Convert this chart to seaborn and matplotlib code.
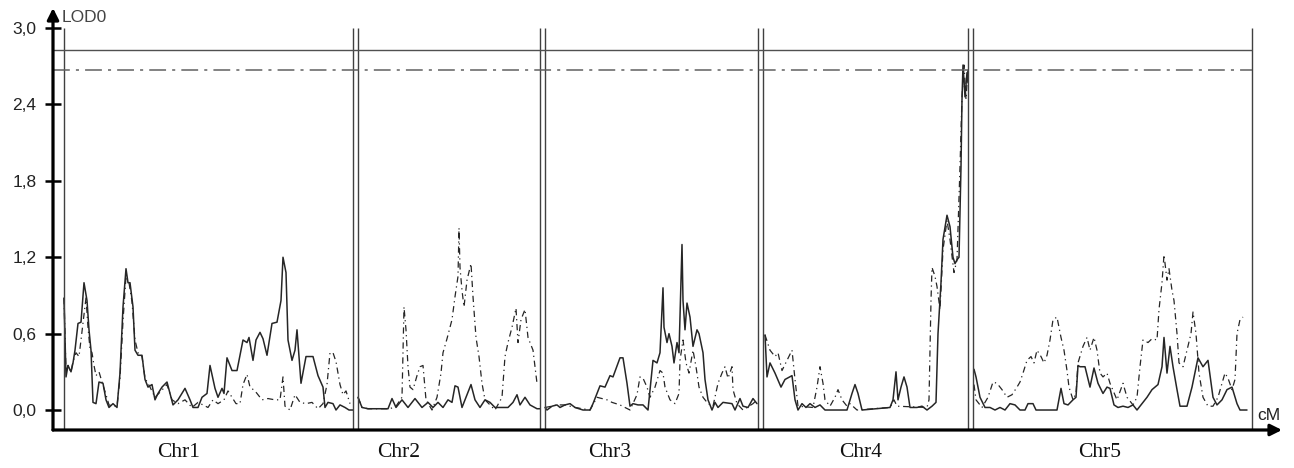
import numpy as np
import pandas as pd
import seaborn as sns
import matplotlib.pyplot as plt

# chromosome names, lengths (cM) and label positions
chr_names = ['Chr1', 'Chr2', 'Chr3', 'Chr4', 'Chr5']
chr_len = [289, 182, 213, 205, 279]
gap = 5
label_pos = [115, 335, 546, 797, 1036]

thr_solid = 2.83
thr_dash = 2.67

yticks = [0.0, 0.6, 1.2, 1.8, 2.4, 3.0]

# ---- Chr1
chr1_solid_cm = [0, 2, 4, 7, 9, 11, 14, 17, 20, 23, 25, 27, 29, 32, 35, 39, 42, 45, 49, 53, 56, 59, 62, 64, 66,
                 69, 71, 74, 78, 81, 84, 88, 91, 94, 98, 103, 106, 109, 114, 121, 126, 129, 134, 138, 143, 146,
                 151, 154, 158, 160, 163, 168, 173, 179, 183, 185, 189, 192, 196, 199, 203, 208, 213, 217, 219,
                 222, 224, 228, 231, 233, 237, 242, 249, 254, 259, 261, 264, 269, 272, 276, 281, 285, 289]
chr1_solid_lod = [0.88, 0.26, 0.35, 0.30, 0.37, 0.47, 0.68, 0.69, 1.00, 0.86, 0.63, 0.47, 0.06, 0.05, 0.22, 0.21,
                  0.08, 0.02, 0.05, 0.02, 0.29, 0.81, 1.11, 1.00, 1.00, 0.81, 0.47, 0.43, 0.43, 0.24, 0.18, 0.20,
                  0.08, 0.13, 0.18, 0.22, 0.13, 0.04, 0.08, 0.17, 0.08, 0.02, 0.02, 0.10, 0.13, 0.35, 0.17, 0.10,
                  0.17, 0.13, 0.41, 0.31, 0.31, 0.55, 0.53, 0.57, 0.39, 0.55, 0.61, 0.56, 0.43, 0.68, 0.69, 0.86,
                  1.20, 1.08, 0.55, 0.39, 0.47, 0.63, 0.21, 0.42, 0.42, 0.27, 0.18, 0.02, 0.06, 0.05, 0.00, 0.04,
                  0.02, 0.00, 0.00]
chr1_dash_cm = [0, 2, 4, 7, 9, 12, 15, 17, 20, 22, 24, 26, 28, 30, 32, 35, 38, 42, 45, 49, 53, 56, 59, 62, 65, 68,
                71, 74, 78, 81, 86, 91, 96, 103, 108, 114, 121, 128, 134, 139, 144, 149, 154, 160, 164, 168, 172,
                176, 179, 183, 186, 191, 194, 198, 204, 211, 216, 219, 221, 226, 231, 236, 242, 248, 254, 259,
                263, 266, 269, 272, 276, 279, 282, 286]
chr1_dash_lod = [0.88, 0.30, 0.35, 0.30, 0.38, 0.45, 0.42, 0.55, 0.75, 0.88, 0.65, 0.48, 0.45, 0.35, 0.27, 0.30,
                 0.22, 0.12, 0.04, 0.03, 0.03, 0.25, 0.70, 1.05, 1.00, 0.85, 0.55, 0.45, 0.42, 0.25, 0.18, 0.10,
                 0.14, 0.20, 0.08, 0.05, 0.08, 0.02, 0.06, 0.04, 0.02, 0.08, 0.05, 0.08, 0.15, 0.10, 0.05, 0.05,
                 0.20, 0.28, 0.18, 0.15, 0.12, 0.08, 0.09, 0.08, 0.08, 0.26, 0.03, 0.00, 0.12, 0.06, 0.05, 0.06,
                 0.01, 0.05, 0.20, 0.45, 0.45, 0.38, 0.20, 0.12, 0.15, 0.05]

# ---- Chr2
chr2_solid_cm = [0, 4, 10, 30, 34, 38, 44, 50, 57, 64, 70, 75, 80, 85, 90, 94, 97, 100, 104, 109, 113, 117, 122,
                 127, 132, 137, 144, 150, 155, 159, 162, 167, 172, 179, 182]
chr2_solid_lod = [0.10, 0.02, 0.01, 0.01, 0.09, 0.02, 0.08, 0.02, 0.09, 0.02, 0.06, 0.02, 0.06, 0.02, 0.08, 0.06,
                  0.19, 0.18, 0.02, 0.12, 0.20, 0.08, 0.02, 0.08, 0.06, 0.02, 0.02, 0.02, 0.06, 0.12, 0.04, 0.10,
                  0.04, 0.01, 0.01]
chr2_dash_cm = [0, 4, 10, 32, 38, 44, 46, 48, 50, 52, 55, 59, 62, 65, 68, 74, 79, 83, 85, 89, 94, 97, 100, 101,
                102, 104, 106, 109, 113, 115, 118, 121, 124, 127, 137, 144, 147, 150, 154, 158, 160, 163, 167,
                170, 175, 179]
chr2_dash_lod = [0.10, 0.02, 0.01, 0.01, 0.03, 0.10, 0.81, 0.63, 0.34, 0.18, 0.16, 0.27, 0.34, 0.35, 0.08, 0.00,
                 0.10, 0.29, 0.45, 0.56, 0.71, 0.89, 1.05, 1.43, 1.12, 0.94, 0.81, 1.02, 1.15, 0.89, 0.57, 0.42,
                 0.21, 0.08, 0.00, 0.10, 0.42, 0.53, 0.65, 0.80, 0.53, 0.71, 0.79, 0.57, 0.47, 0.21]

# ---- Chr3
chr3_solid_cm = [0, 2, 7, 12, 15, 20, 25, 30, 38, 45, 48, 55, 60, 65, 68, 75, 78, 82, 85, 88, 93, 98, 103, 108,
                 112, 115, 118, 119, 122, 124, 127, 129, 132, 134, 137, 138, 140, 142, 145, 148, 152, 154, 158,
                 160, 163, 167, 170, 173, 178, 187, 190, 195, 198, 203, 208, 212]
chr3_solid_lod = [0.02, 0.00, 0.03, 0.04, 0.02, 0.04, 0.05, 0.02, 0.00, 0.00, 0.05, 0.19, 0.18, 0.27, 0.26, 0.41,
                  0.41, 0.21, 0.03, 0.05, 0.04, 0.04, 0.00, 0.39, 0.37, 0.45, 0.96, 0.65, 0.53, 0.60, 0.50, 0.37,
                  0.53, 0.45, 1.30, 0.86, 0.63, 0.84, 0.73, 0.50, 0.63, 0.60, 0.45, 0.24, 0.08, 0.00, 0.06, 0.02,
                  0.06, 0.05, 0.00, 0.09, 0.03, 0.02, 0.09, 0.05]
chr3_dash_cm = [0, 7, 12, 20, 30, 45, 52, 57, 62, 67, 75, 85, 92, 95, 98, 102, 105, 110, 115, 118, 120, 125, 130,
                134, 135, 138, 141, 144, 148, 151, 154, 158, 163, 168, 173, 177, 180, 183, 187, 188, 192, 198,
                208, 212]
chr3_dash_lod = [0.02, 0.03, 0.04, 0.04, 0.02, 0.00, 0.10, 0.09, 0.08, 0.06, 0.04, 0.00, 0.12, 0.26, 0.25, 0.18,
                 0.10, 0.18, 0.31, 0.29, 0.18, 0.08, 0.05, 0.13, 0.39, 0.55, 0.37, 0.29, 0.47, 0.34, 0.18, 0.10,
                 0.05, 0.03, 0.21, 0.29, 0.34, 0.25, 0.34, 0.16, 0.05, 0.00, 0.05, 0.08]

# ---- Chr4
chr4_solid_cm = [2, 4, 7, 12, 18, 22, 29, 32, 35, 39, 43, 47, 52, 57, 62, 84, 89, 92, 95, 99, 127, 130, 133, 135,
                 138, 141, 144, 147, 154, 159, 164, 169, 173, 175, 178, 180, 184, 187, 190, 192, 194, 196, 198,
                 199, 200, 202, 204, 205]
chr4_solid_lod = [0.59, 0.26, 0.37, 0.29, 0.18, 0.24, 0.27, 0.08, 0.00, 0.05, 0.02, 0.05, 0.02, 0.04, 0.00, 0.00,
                  0.13, 0.20, 0.13, 0.00, 0.02, 0.08, 0.30, 0.08, 0.18, 0.26, 0.18, 0.02, 0.02, 0.03, 0.00, 0.03,
                  0.06, 0.60, 1.00, 1.34, 1.53, 1.44, 1.20, 1.15, 1.18, 1.20, 1.91, 2.44, 2.71, 2.46, 2.65, 2.57]
chr4_dash_cm = [2, 7, 12, 15, 19, 24, 29, 32, 35, 50, 54, 57, 60, 62, 67, 72, 75, 79, 84, 87, 94, 127, 131, 134,
                164, 166, 168, 169, 172, 174, 177, 180, 184, 187, 191, 194, 197, 199, 201, 203, 205]
chr4_dash_lod = [0.59, 0.47, 0.42, 0.45, 0.31, 0.39, 0.47, 0.24, 0.03, 0.02, 0.18, 0.34, 0.21, 0.08, 0.03, 0.10,
                 0.16, 0.08, 0.03, 0.05, 0.00, 0.02, 0.08, 0.03, 0.02, 0.08, 0.86, 1.12, 1.05, 0.97, 0.79, 1.26,
                 1.49, 1.34, 1.08, 1.18, 1.91, 2.46, 2.71, 2.44, 2.69]

# ---- Chr5
chr5_solid_cm = [1, 3, 7, 12, 17, 22, 27, 32, 37, 42, 47, 52, 55, 60, 63, 84, 88, 91, 95, 100, 103, 105, 107, 112,
                 117, 121, 125, 130, 134, 137, 141, 145, 150, 155, 160, 164, 169, 174, 179, 185, 189, 191, 194,
                 197, 200, 204, 207, 214, 219, 225, 230, 235, 240, 244, 249, 254, 259, 264, 267, 274]
chr5_solid_lod = [0.32, 0.26, 0.10, 0.02, 0.02, 0.00, 0.02, 0.00, 0.05, 0.04, 0.00, 0.00, 0.05, 0.05, 0.00, 0.00,
                  0.17, 0.05, 0.04, 0.08, 0.10, 0.35, 0.34, 0.34, 0.18, 0.33, 0.21, 0.13, 0.18, 0.17, 0.04, 0.02,
                  0.03, 0.02, 0.04, 0.00, 0.05, 0.10, 0.16, 0.20, 0.34, 0.57, 0.29, 0.50, 0.34, 0.16, 0.03, 0.03,
                  0.18, 0.41, 0.34, 0.39, 0.10, 0.04, 0.08, 0.16, 0.18, 0.05, 0.00, 0.00]
chr5_dash_cm = [1, 3, 9, 15, 20, 24, 29, 34, 39, 44, 47, 50, 54, 58, 61, 64, 68, 71, 74, 77, 80, 84, 88, 91, 94,
                96, 100, 103, 105, 110, 114, 117, 121, 124, 127, 130, 134, 137, 144, 150, 154, 160, 164, 167, 170,
                175, 179, 184, 186, 189, 191, 194, 196, 199, 201, 204, 206, 210, 214, 218, 220, 223, 226, 230, 235,
                240, 245, 249, 252, 255, 259, 262, 264, 267, 270]
chr5_dash_lod = [0.20, 0.08, 0.02, 0.10, 0.22, 0.21, 0.16, 0.10, 0.12, 0.18, 0.22, 0.29, 0.39, 0.42, 0.37, 0.47,
                 0.42, 0.37, 0.43, 0.55, 0.71, 0.73, 0.57, 0.47, 0.31, 0.18, 0.08, 0.13, 0.37, 0.50, 0.57, 0.47,
                 0.57, 0.47, 0.29, 0.26, 0.29, 0.21, 0.08, 0.21, 0.10, 0.04, 0.10, 0.34, 0.55, 0.53, 0.56, 0.55,
                 0.79, 1.00, 1.22, 1.02, 1.11, 0.94, 0.86, 0.60, 0.37, 0.34, 0.47, 0.60, 0.77, 0.60, 0.29, 0.10,
                 0.03, 0.03, 0.10, 0.21, 0.29, 0.25, 0.16, 0.24, 0.60, 0.71, 0.73]

solid_cm = [chr1_solid_cm, chr2_solid_cm, chr3_solid_cm, chr4_solid_cm, chr5_solid_cm]
solid_lod = [chr1_solid_lod, chr2_solid_lod, chr3_solid_lod, chr4_solid_lod, chr5_solid_lod]
dash_cm = [chr1_dash_cm, chr2_dash_cm, chr3_dash_cm, chr4_dash_cm, chr5_dash_cm]
dash_lod = [chr1_dash_lod, chr2_dash_lod, chr3_dash_lod, chr4_dash_lod, chr5_dash_lod]

sns.set_style("white")
plt.rcParams['font.family'] = ['Liberation Sans', 'DejaVu Sans']

starts = np.concatenate([[0], np.cumsum(np.array(chr_len) + gap)[:-1]])
ends = starts + np.array(chr_len)

fig = plt.figure(figsize=(12.94, 4.68), dpi=100)
ax = fig.add_axes([53/1294, 38/468, 1229/1294, 422/468])

line_col = '#262626'
for i in range(5):
    d1 = pd.DataFrame({'pos': starts[i] + np.array(solid_cm[i]), 'lod': solid_lod[i]})
    d2 = pd.DataFrame({'pos': starts[i] + np.array(dash_cm[i]), 'lod': dash_lod[i]})
    sns.lineplot(data=d2, x='pos', y='lod', ax=ax, color=line_col, lw=0.9,
                 linestyle=(0, (5, 3, 1, 3)), estimator=None, sort=False)
    sns.lineplot(data=d1, x='pos', y='lod', ax=ax, color=line_col, lw=1.1,
                 estimator=None, sort=False)

ymin, ymax = -0.157, 3.158
xmin, xmax = -11, 1218
ax.set_xlim(xmin, xmax)
ax.set_ylim(ymin, ymax)

# chromosome boundary lines (double between chromosomes)
bounds = list(starts) + list(ends)
ax.vlines(bounds, ymin, 3.0, color='#404040', lw=1.0)

# threshold lines
ax.hlines(thr_solid, xmin, ends[-1], color='#505050', lw=1.0)
ax.hlines(thr_dash, xmin, ends[-1], color='#606060', lw=1.1,
          linestyles=[(0, (11, 4, 2, 4))])

for s in ax.spines.values():
    s.set_visible(False)
ax.annotate('', xy=(0, 1.0), xytext=(0, 0), xycoords='axes fraction',
            arrowprops=dict(arrowstyle='-|>', lw=2.3, color='black', mutation_scale=17,
                            shrinkA=0, shrinkB=0))
ax.annotate('', xy=(1.0, 0), xytext=(0, 0), xycoords='axes fraction',
            arrowprops=dict(arrowstyle='-|>', lw=2.3, color='black', mutation_scale=17,
                            shrinkA=0, shrinkB=0))

ax.set_xticks([])
ax.set_yticks(yticks)
ax.set_yticklabels([f'{v:.1f}'.replace('.', ',') for v in yticks], fontsize=12.5, color='#222222')
ax.tick_params(axis='y', direction='inout', length=12, width=1.8, pad=6, color='black', left=True)
ax.set_xlabel('')
ax.set_ylabel('')

ax.text(9/1229, 1 - 10/422, 'LOD0', transform=ax.transAxes, fontsize=12.5, color='#444444',
        ha='left', va='center')
ax.text(1204/1229, 7/422, 'cM', transform=ax.transAxes, fontsize=12.5, color='#222222',
        ha='left', va='bottom')

for name, xp in zip(chr_names, label_pos):
    ax.text(xp, -0.157 - 22/127.3, name, fontsize=15.5, family='Liberation Serif',
            ha='center', va='center', color='#111111', clip_on=False)

fig.savefig('out.png', dpi=100)
